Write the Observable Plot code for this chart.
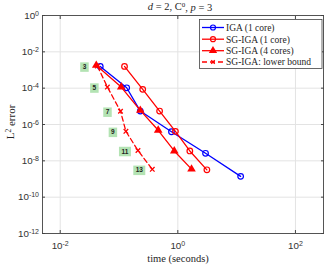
<!DOCTYPE html>
<html><head><meta charset="utf-8">
<script src="https://cdn.jsdelivr.net/npm/d3@7"></script>
<script src="https://cdn.jsdelivr.net/npm/@observablehq/plot@0.6"></script>
<style>
html,body{margin:0;padding:0;background:#fff;}
#chart{position:relative;width:324px;height:265px;}
</style></head><body><div id="chart"></div>
<script>
// ---- data ----
const igaTime = [0.048, 0.135, 0.23, 0.78, 2.96, 11.7];
const igaErr  = [1.58e-3, 1.05e-4, 5.5e-6, 4.0e-7, 2.6e-8, 1.4e-9];
const sg1Time = [0.124, 0.253, 0.49, 0.91, 1.6, 3.12];
const sg1Err  = [1.58e-3, 8.6e-5, 5.5e-6, 4.2e-7, 3.5e-8, 3.2e-9];
const sg4Time = [0.041, 0.109, 0.23, 0.464, 0.87, 1.71];
const sg4Err  = [1.8e-3, 1.15e-4, 6.0e-6, 4.8e-7, 3.5e-8, 3.5e-9];
const lbTime  = [0.043, 0.0634, 0.106, 0.131, 0.21, 0.368];
const lbErr   = [1.64e-3, 1.15e-4, 5.4e-6, 4.2e-7, 3.7e-8, 3.4e-9];
const levelLabels = ["3", "5", "7", "9", "11", "13"];
const seriesNames = ["IGA (1 core)", "SG-IGA (1 core)", "SG-IGA (4 cores)", "SG-IGA: lower bound"];
const xTicks = [1e-2, 1, 1e2];
const xTickLabels = ["10^-2", "10^0", "10^2"];
const yTicks = [1e-12, 1e-10, 1e-8, 1e-6, 1e-4, 1e-2, 1];
const yTickLabels = ["10^-12", "10^-10", "10^-8", "10^-6", "10^-4", "10^-2", "10^0"];

const rows = (t, e) => t.map((x, i) => ({t: x, e: e[i]}));
const iga = rows(igaTime, igaErr);
const sg1 = rows(sg1Time, sg1Err);
const sg4 = rows(sg4Time, sg4Err);
const lb = lbTime.map((t, i) => ({t, e: lbErr[i], label: levelLabels[i]}));

const blue = "#0000ff", red = "#ff0000", green = "#b3e3b3";
const box = (w, h) => ({draw(ctx) { ctx.rect(-w / 2, -h / 2, w, h); }});
const xy = {x: "t", y: "e"};

const plot = Plot.plot({
  width: 324, height: 265,
  marginLeft: 42, marginRight: 1, marginTop: 15, marginBottom: 32,
  style: {fontFamily: "'Liberation Sans', Arial, sans-serif", fontSize: "9.8px", color: "#262626", background: "#fff"},
  x: {type: "log", domain: [0.005, 300]},
  y: {type: "log", domain: [1e-12, 1]},
  marks: [
    Plot.gridX(xTicks, {stroke: "#e3e3e3", strokeOpacity: 1}),
    Plot.gridY(yTicks, {stroke: "#e3e3e3", strokeOpacity: 1}),
    Plot.axisX(xTicks, {anchor: "bottom", tickSize: 0, tickPadding: 9, tickFormat: d => xTickLabels[xTicks.indexOf(d)], label: null, fill: "#333"}),
    Plot.axisY(yTicks, {anchor: "left", tickSize: 0, tickPadding: 3.5, tickFormat: d => yTickLabels[yTicks.indexOf(d)], label: null, fill: "#333"}),
    Plot.axisX(xTicks, {anchor: "bottom", tickSize: 3, dy: -3, tickFormat: () => "", label: null, stroke: "#444"}),
    Plot.axisX(xTicks, {anchor: "top", tickSize: 3, dy: 3, tickFormat: () => "", label: null, stroke: "#444"}),
    Plot.axisY(yTicks, {anchor: "left", tickSize: 3, dx: 3, tickFormat: () => "", label: null, stroke: "#444"}),
    Plot.axisY(yTicks, {anchor: "right", tickSize: 3, dx: -3, tickFormat: () => "", label: null, stroke: "#444"}),
    Plot.frame({stroke: "#444", strokeWidth: 0.9}),
    // level labels (green boxes)
    Plot.dot(lb, {...xy, dx: -13, dy: 1, symbol: box(8.5, 9.5), fill: green, filter: d => d.label.length === 1}),
    Plot.dot(lb, {...xy, dx: -13, dy: 1, symbol: box(12, 9.5), fill: green, filter: d => d.label.length === 2}),
    Plot.text(lb, {...xy, text: "label", dx: -13, dy: 1, fontSize: 6.5, fontWeight: "bold", fill: "#222"}),
    // series
    Plot.line(iga, {...xy, stroke: blue, strokeWidth: 1.3}),
    Plot.dot(iga, {...xy, stroke: blue, r: 2.8, strokeWidth: 1.2}),
    Plot.line(sg1, {...xy, stroke: red, strokeWidth: 1.3}),
    Plot.dot(sg1, {...xy, stroke: red, r: 2.8, strokeWidth: 1.2}),
    Plot.line(sg4, {...xy, stroke: red, strokeWidth: 1.3}),
    Plot.dot(sg4, {...xy, symbol: "triangle", fill: red, r: 3.2}),
    Plot.line(lb, {...xy, stroke: red, strokeWidth: 1.3, strokeDasharray: "5,3"}),
    Plot.dot(lb, {...xy, symbol: "times", stroke: red, r: 2.2, strokeWidth: 1.3})
  ]
});
document.getElementById("chart").appendChild(plot);

const svg = d3.select(plot);
// superscripts in tick labels
svg.selectAll("text").each(function() {
  const m = /^10\^(-?\d+)$/.exec(this.textContent);
  if (!m) return;
  const t = d3.select(this);
  t.text(null);
  t.append("tspan").text("10");
  t.append("tspan").attr("dy", "-0.45em").attr("font-size", "7px").text(m[1]);
});

const serif = "'Liberation Serif', 'Times New Roman', serif";
// title
const title = svg.append("text").attr("x", 180).attr("y", 10).attr("text-anchor", "middle")
  .attr("font-family", serif).attr("font-size", "10.5px").attr("fill", "#262626");
title.append("tspan").attr("font-style", "italic").text("d");
title.append("tspan").text(" = 2, C");
title.append("tspan").attr("dy", "-0.4em").attr("font-size", "7px").text("0");
title.append("tspan").attr("dy", "0.4em").text(", ");
title.append("tspan").attr("font-style", "italic").text("p");
title.append("tspan").text(" = 3");

// x label
svg.append("text").attr("x", 178).attr("y", 262).attr("text-anchor", "middle")
  .attr("font-family", serif).attr("font-size", "10.5px").attr("fill", "#262626").text("time (seconds)");
// y label
const yl = svg.append("text").attr("transform", "translate(14,122) rotate(-90)").attr("text-anchor", "middle")
  .attr("font-family", serif).attr("font-size", "11px").attr("fill", "#262626");
yl.append("tspan").text("L");
yl.append("tspan").attr("dy", "-0.4em").attr("font-size", "7.5px").text("2");
yl.append("tspan").attr("dy", "0.4em").text(" error");

// legend
const lg = svg.append("g");
lg.append("rect").attr("x", 199.5).attr("y", 19.5).attr("width", 122.5).attr("height", 49)
  .attr("fill", "#fff").attr("stroke", "#444").attr("stroke-width", 0.8);
const styles = [
  {c: blue, m: "circle", dash: null},
  {c: red, m: "circle", dash: null},
  {c: red, m: "triangle", dash: null},
  {c: red, m: "times", dash: "5,3"}
];
const rowY = [27.5, 39.2, 50.7, 62];
seriesNames.forEach((name, i) => {
  const s = styles[i], y = rowY[i];
  lg.append("line").attr("x1", 202).attr("x2", 224).attr("y1", y).attr("y2", y)
    .attr("stroke", s.c).attr("stroke-width", 1.3).attr("stroke-dasharray", s.dash);
  if (s.m === "circle") lg.append("circle").attr("cx", 213).attr("cy", y).attr("r", 2.5).attr("fill", "none").attr("stroke", s.c).attr("stroke-width", 1.2);
  else if (s.m === "triangle") lg.append("path").attr("transform", `translate(213,${y})`).attr("d", d3.symbol(d3.symbolTriangle, 30)()).attr("fill", s.c);
  else lg.append("path").attr("transform", `translate(213,${y}) rotate(45)`).attr("d", "M-2.5,0H2.5M0,-2.5V2.5").attr("stroke", s.c).attr("stroke-width", 1.3);
  lg.append("text").attr("x", 226).attr("y", y).attr("dy", "0.35em").attr("text-anchor", "start").attr("font-family", serif)
    .attr("font-size", "9.5px").attr("fill", "#262626").text(name);
});
</script></body></html>
